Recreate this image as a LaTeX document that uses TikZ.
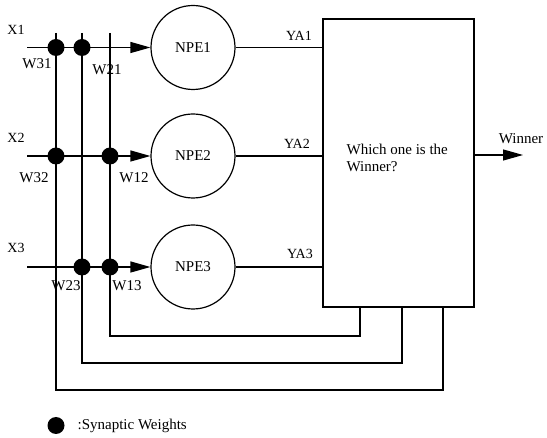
\documentclass[tikz,border=0pt]{standalone}
\usepackage{fontspec}
\setmainfont{Liberation Serif}
\usetikzlibrary{arrows.meta}
\begin{document}
\begin{tikzpicture}[x=1pt,y=-1pt,
  line width=1.2pt,
  every node/.style={font=\fontsize{15}{17.5}\selectfont, inner sep=0pt},
  lbl/.style={font=\fontsize{14}{16}\selectfont},
  neuron/.style={draw, circle, minimum size=84pt},
  wdot/.style={fill=black, circle, minimum size=17pt},
  arr/.style={-{Triangle[length=20pt,width=11pt]}},
  judge/.style={draw, rectangle, minimum width=151pt, minimum height=288pt}]
\useasboundingbox (0,0) rectangle (547,438);
% neurons and decision box
\node[neuron] (npe1) at (193,47.5) {NPE1};
\node[neuron] (npe2) at (193,156) {NPE2};
\node[neuron] (npe3) at (193,267) {NPE3};
\node[judge] (box) at (398.5,163) {};
\node[align=left, anchor=west] (q) at (346,158) {Which one is the\\Winner?};
% input starts
\coordinate (x1s) at (27,47.5);
\coordinate (x2s) at (27,156);
\coordinate (x3s) at (27,267);
% vertical feedback lines
\coordinate (t1) at (56,33);
\coordinate (t2) at (82,33);
\coordinate (t3) at (110,33);
\coordinate (c1) at (443,390);
\coordinate (c2) at (402,363);
\coordinate (c3) at (360,336);
\draw (t1) |- (c1) -- (c1 |- box.south);
\draw (t2) |- (c2) -- (c2 |- box.south);
\draw (t3) |- (c3) -- (c3 |- box.south);
% inputs
\draw[arr] (x1s) -- (npe1);
\draw[arr] (x2s) -- (npe2);
\draw[arr] (x3s) -- (npe3);
% outputs
\draw (npe1) -- (npe1 -| box.west);
\draw (npe2) -- (npe2 -| box.west);
\draw (npe3) -- (npe3 -| box.west);
\coordinate (wout) at (523,155);
\draw[arr] (box.east |- wout) -- (wout);
% synaptic weights
\node[wdot] (w31) at (56,47.5) {};
\node[wdot] (w21) at (82,47.5) {};
\node[wdot] (w32) at (56,156) {};
\node[wdot] (w12) at (110,156) {};
\node[wdot] (w23) at (82,267) {};
\node[wdot] (w13) at (110,267) {};
% labels
\node[lbl] (lx1) at (16,30) {X1};
\node[lbl] (lx2) at (16,137.5) {X2};
\node[lbl] (lx3) at (16,247.5) {X3};
\node (lw31) at (37,64) {W31};
\node (lw21) at (107,70) {W21};
\node (lw32) at (34,178) {W32};
\node (lw12) at (134,178) {W12};
\node (lw23) at (66,286) {W23};
\node (lw13) at (127,286) {W13};
\node[lbl] (lya1) at (299,36) {YA1};
\node[lbl] (lya2) at (297,144) {YA2};
\node[lbl] (lya3) at (300,254) {YA3};
\node (lwin) at (521,139) {Winner};
% legend
\node[wdot] (leg) at (56,425.5) {};
\node[anchor=west] (legt) at (77,425.5) {:Synaptic Weights};
\end{tikzpicture}
\end{document}
